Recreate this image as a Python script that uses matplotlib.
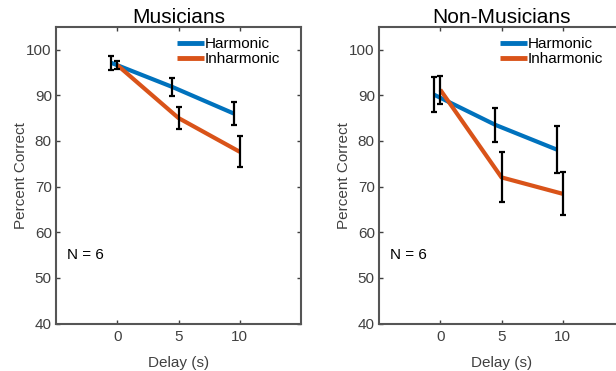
'''Percent correct vs delay for musicians and non-musicians'''

import matplotlib
matplotlib.use('Agg')
import matplotlib.pyplot as plt  # noqa E402

plt.rcParams['font.family'] = ['Liberation Sans', 'DejaVu Sans']

delays = [0, 5, 10]
offset = -0.5  # harmonic points drawn slightly left

titles = ["Musicians", "Non-Musicians"]

harm_mean = [[97.1, 91.8, 86.0], [90.1, 83.5, 78.1]]
harm_err = [[1.5, 1.9, 2.6], [3.8, 3.8, 5.2]]
inharm_mean = [[96.6, 85.0, 77.6], [91.2, 72.0, 68.4]]
inharm_err = [[0.9, 2.4, 3.4], [3.1, 5.5, 4.7]]

n_label = "N = 6"

blue = '#0072BD'
orange = '#D95319'
gray = '#404040'

fig = plt.figure(figsize=(6.16, 3.71), dpi=100)

positions = [[56 / 616, 47.5 / 371, 245 / 616, 296.8 / 371],
             [379 / 616, 47.5 / 371, 245 / 616, 296.8 / 371]]

for i in range(2):
    ax = fig.add_axes(positions[i])
    xh = [d + offset for d in delays]
    ax.plot(xh, harm_mean[i], color=blue, lw=3, label='Harmonic',
            solid_capstyle='butt')
    ax.plot(delays, inharm_mean[i], color=orange, lw=3, label='Inharmonic',
            solid_capstyle='butt')
    ax.errorbar(xh, harm_mean[i], yerr=harm_err[i], fmt='none',
                ecolor='black', elinewidth=1.6, capsize=2.5, capthick=1.6)
    ax.errorbar(delays, inharm_mean[i], yerr=inharm_err[i], fmt='none',
                ecolor='black', elinewidth=1.6, capsize=2.5, capthick=1.6)

    ax.set_xlim(-5, 15)
    ax.set_ylim(40, 105)
    ax.set_xticks(delays)
    ax.set_yticks(range(40, 101, 10))
    ax.tick_params(direction='in', length=3, width=1, colors=gray,
                   labelsize=11, top=True, right=True, pad=3)
    ax.tick_params(axis='x', pad=5)
    for s in ax.spines.values():
        s.set_color('#555555')
        s.set_linewidth(1.5)

    ax.set_title(titles[i], fontsize=15, pad=3)
    ax.set_xlabel("Delay (s)", fontsize=11, color=gray, labelpad=8)
    ax.set_ylabel("Percent Correct", fontsize=11, color=gray, labelpad=-1)
    ax.text(-4.1, 55, n_label, fontsize=11, va='center', ha='left')

    leg = ax.legend(loc='upper right', frameon=False, fontsize=11,
                    handlelength=1.75, handletextpad=0.05,
                    labelspacing=0.05, borderaxespad=0.3, borderpad=0.2,
                    bbox_to_anchor=(0.945, 0.99))
    for h in leg.get_lines():
        h.set_linewidth(3.5)

fig.savefig('out.png', dpi=100)
